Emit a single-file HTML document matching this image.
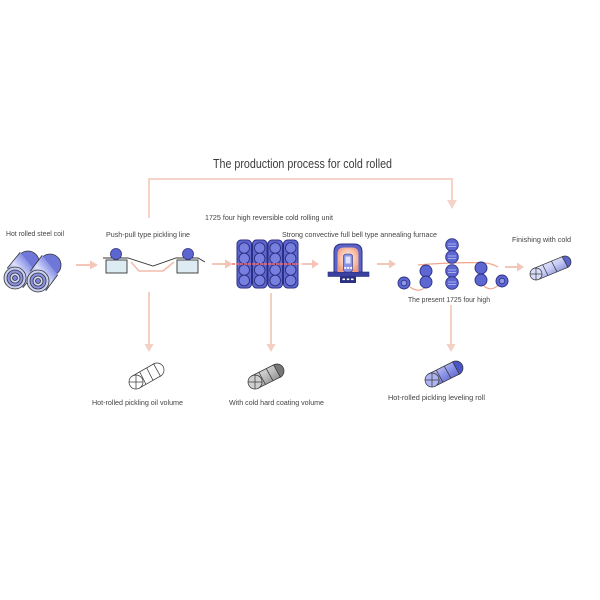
<!DOCTYPE html>
<html><head><meta charset="utf-8"><style>
html,body{margin:0;padding:0;background:#fff;}
svg{display:block;}
text{font-family:"Liberation Sans",sans-serif;fill:#444;}
</style></head><body>
<svg width="600" height="600" viewBox="0 0 600 600" xmlns="http://www.w3.org/2000/svg">
<defs>
  <linearGradient id="coilG" x1="0" y1="1" x2="1" y2="0" gradientUnits="objectBoundingBox">
    <stop offset="0" stop-color="#3a43b0"/>
    <stop offset="0.45" stop-color="#dfe2ff"/>
    <stop offset="0.7" stop-color="#8e96e6"/>
    <stop offset="1" stop-color="#4a53c0"/>
  </linearGradient>
  <linearGradient id="finG" x1="0" y1="0" x2="1" y2="1">
    <stop offset="0" stop-color="#ffffff"/>
    <stop offset="0.5" stop-color="#c9cdf5"/>
    <stop offset="1" stop-color="#4c55c6"/>
  </linearGradient>
  <linearGradient id="grayG" x1="0" y1="0" x2="1" y2="1">
    <stop offset="0" stop-color="#f4f4f4"/>
    <stop offset="0.5" stop-color="#bdbdbd"/>
    <stop offset="1" stop-color="#6a6a6a"/>
  </linearGradient>
  <linearGradient id="blueG" x1="0" y1="0" x2="1" y2="1">
    <stop offset="0" stop-color="#e9ebff"/>
    <stop offset="0.5" stop-color="#8d94e8"/>
    <stop offset="1" stop-color="#3b44b8"/>
  </linearGradient>
  <radialGradient id="glow" cx="0.5" cy="0.45" r="0.6">
    <stop offset="0" stop-color="#fff6f0"/>
    <stop offset="0.55" stop-color="#f9c7b2"/>
    <stop offset="1" stop-color="#ef9a80"/>
  </radialGradient>
</defs>

<!-- Title -->
<text x="213" y="168" font-size="12.5" textLength="179" lengthAdjust="spacingAndGlyphs" style="fill:#3c3c3c">The production process for cold rolled</text>

<!-- Feedback loop -->
<g stroke="#f5d3c9" stroke-width="2" fill="none">
  <polyline points="149,218 149,179 452,179 452,201"/>
</g>
<polygon points="447,200 457,200 452,209" fill="#f5d3c9"/>

<!-- Labels -->
<g font-size="7.4">
  <text x="6" y="236" textLength="58" lengthAdjust="spacingAndGlyphs">Hot rolled steel coil</text>
  <text x="106" y="237" textLength="84" lengthAdjust="spacingAndGlyphs">Push-pull type pickling line</text>
  <text x="205" y="220" textLength="128" lengthAdjust="spacingAndGlyphs">1725 four high reversible cold rolling unit</text>
  <text x="282" y="237" textLength="155" lengthAdjust="spacingAndGlyphs">Strong convective full bell type annealing furnace</text>
  <text x="512" y="242" textLength="59" lengthAdjust="spacingAndGlyphs">Finishing with cold</text>
  <text x="408" y="302" textLength="82" lengthAdjust="spacingAndGlyphs">The present 1725 four high</text>
  <text x="92" y="405" textLength="91" lengthAdjust="spacingAndGlyphs">Hot-rolled pickling oil volume</text>
  <text x="229" y="405" textLength="95" lengthAdjust="spacingAndGlyphs">With cold hard coating volume</text>
  <text x="388" y="400" textLength="97" lengthAdjust="spacingAndGlyphs">Hot-rolled pickling leveling roll</text>
</g>

<!-- Horizontal arrows -->
<g stroke="#f3c6b8" stroke-width="2">
  <line x1="76" y1="265" x2="91" y2="265"/>
  <line x1="212" y1="264" x2="226" y2="264"/>
  <line x1="302" y1="264" x2="313" y2="264"/>
  <line x1="377" y1="264" x2="390" y2="264"/>
  <line x1="505" y1="267" x2="518" y2="267"/>
</g>
<g fill="#f3c6b8">
  <polygon points="90,260.5 98,265 90,269.5"/>
  <polygon points="225,259.5 233,264 225,268.5"/>
  <polygon points="312,259.5 319,264 312,268.5"/>
  <polygon points="389,259.5 396,264 389,268.5"/>
  <polygon points="517,262.5 524,267 517,271.5"/>
</g>

<!-- Down arrows -->
<g stroke="#f3cfc4" stroke-width="2">
  <line x1="149" y1="292" x2="149" y2="345"/>
  <line x1="271" y1="293" x2="271" y2="345"/>
  <line x1="451" y1="305" x2="451" y2="345"/>
</g>
<g fill="#f3cfc4">
  <polygon points="144.5,344 153.5,344 149,352"/>
  <polygon points="266.5,344 275.5,344 271,352"/>
  <polygon points="446.5,344 455.5,344 451,352"/>
</g>

<!-- Hot rolled steel coil -->
<g stroke="#333" stroke-width="0.8">
  <circle cx="28" cy="262" r="11" fill="#6f78d8"/>
  <polygon points="22.8,287.7 35.8,271.7 20.2,252.3 7.2,268.3" fill="url(#coilG)" stroke="none"/>
  <line x1="22.8" y1="287.7" x2="35.8" y2="271.7"/>
  <line x1="7.2" y1="268.3" x2="20.2" y2="252.3"/>
  <circle cx="15" cy="278" r="11" fill="#c9cef5"/>
  <circle cx="15" cy="278" r="8" fill="#8b93e4"/>
  <circle cx="15" cy="278" r="5" fill="#d5d9fa"/>
  <circle cx="15" cy="278" r="2.5" fill="#7a82dc"/>
  <circle cx="50" cy="265" r="11" fill="#6f78d8"/>
  <polygon points="45.8,290.7 57.8,274.7 42.2,255.3 30.2,271.3" fill="url(#coilG)" stroke="none"/>
  <line x1="45.8" y1="290.7" x2="57.8" y2="274.7"/>
  <line x1="30.2" y1="271.3" x2="42.2" y2="255.3"/>
  <circle cx="38" cy="281" r="11" fill="#c9cef5"/>
  <circle cx="38" cy="281" r="8" fill="#8b93e4"/>
  <circle cx="38" cy="281" r="5" fill="#d5d9fa"/>
  <circle cx="38" cy="281" r="2.5" fill="#7a82dc"/>
</g>

<!-- Pickling line -->
<polyline points="131,262 139,271 163,271 174,262" fill="none" stroke="#f2bcab" stroke-width="1.6"/>
<polyline points="103,258 128,258 153,266 176,258 198,258 205,262" fill="none" stroke="#333" stroke-width="0.9"/>
<rect x="106" y="260" width="21" height="13" fill="#dcecf2" stroke="#333" stroke-width="0.9"/>
<rect x="177" y="260" width="21" height="13" fill="#dcecf2" stroke="#333" stroke-width="0.9"/>
<circle cx="116" cy="254" r="5.5" fill="#5d66d0" stroke="#2b2f80" stroke-width="0.8"/>
<circle cx="188" cy="254" r="5.5" fill="#5d66d0" stroke="#2b2f80" stroke-width="0.8"/>

<!-- Cold rolling mill -->
<g stroke="#2b2f80" stroke-width="1">
  <rect x="237" y="240" width="14.5" height="48" rx="4" fill="#5e67d0"/>
  <rect x="252.5" y="240" width="14.5" height="48" rx="4" fill="#5e67d0"/>
  <rect x="268" y="240" width="14.5" height="48" rx="4" fill="#5e67d0"/>
  <rect x="283.5" y="240" width="14.5" height="48" rx="4" fill="#5e67d0"/>
</g>
<g stroke="#2b2f80" stroke-width="0.9" fill="#7780de">
  <circle cx="244.2" cy="248" r="5.3"/><circle cx="244.2" cy="258.5" r="5.3"/><circle cx="244.2" cy="270" r="5.3"/><circle cx="244.2" cy="280.5" r="5.3"/>
  <circle cx="259.7" cy="248" r="5.3"/><circle cx="259.7" cy="258.5" r="5.3"/><circle cx="259.7" cy="270" r="5.3"/><circle cx="259.7" cy="280.5" r="5.3"/>
  <circle cx="275.2" cy="248" r="5.3"/><circle cx="275.2" cy="258.5" r="5.3"/><circle cx="275.2" cy="270" r="5.3"/><circle cx="275.2" cy="280.5" r="5.3"/>
  <circle cx="290.7" cy="248" r="5.3"/><circle cx="290.7" cy="258.5" r="5.3"/><circle cx="290.7" cy="270" r="5.3"/><circle cx="290.7" cy="280.5" r="5.3"/>
</g>
<line x1="232" y1="264" x2="300" y2="264" stroke="#e9707a" stroke-width="1.6" stroke-dasharray="3,1"/>

<!-- Furnace -->
<rect x="340" y="276" width="16" height="7" fill="#2b2f80"/>
<g fill="#fff"><rect x="342.5" y="278.5" width="2.5" height="1.6"/><rect x="346.8" y="278.5" width="2.5" height="1.6"/><rect x="351" y="278.5" width="2.5" height="1.6"/></g>
<rect x="328" y="272" width="41" height="4.5" fill="#3a41a0" stroke="#2b2f80" stroke-width="0.6"/>
<path d="M334,272 L334,252 Q334,244 342,244 L354,244 Q362,244 362,252 L362,272 Z" fill="#5a63c8" stroke="#2b2f80" stroke-width="1"/>
<path d="M337.5,272 L337.5,254 Q337.5,247.5 344,247.5 L352,247.5 Q358.5,247.5 358.5,254 L358.5,272 Z" fill="url(#glow)"/>
<rect x="343.5" y="254" width="9" height="18" rx="2.5" fill="#8a92e4" stroke="#2b2f80" stroke-width="0.6"/>
<rect x="345.5" y="256.5" width="5" height="7" fill="#dfe2fb"/>
<g fill="#fff"><rect x="344.3" y="267" width="2" height="1.8"/><rect x="347.2" y="267" width="2" height="1.8"/><rect x="350.1" y="267" width="2" height="1.8"/></g>

<!-- Four-high mill -->
<g fill="none" stroke="#f0a58f" stroke-width="1.2">
  <path d="M410,287 C417,292 422,291 428,285"/>
  <path d="M418,265 C440,263 470,262 484,263 C490,263 494,265 498,267"/>
  <path d="M484,286 C490,291 495,289 500,283"/>
</g>
<g stroke="#2b2f80" stroke-width="0.9" fill="#5d67d2">
  <circle cx="452" cy="245" r="6.3"/><circle cx="452" cy="257" r="6.3"/>
  <circle cx="452" cy="271" r="6.3"/><circle cx="452" cy="283" r="6.3"/>
  <circle cx="426" cy="271" r="6"/><circle cx="426" cy="282" r="6"/>
  <circle cx="481" cy="268" r="6"/><circle cx="481" cy="280" r="6"/>
  <circle cx="404" cy="283" r="6"/><circle cx="502" cy="281" r="6"/>
</g>
<g stroke="#c8ccf4" stroke-width="0.7">
  <line x1="448" y1="244" x2="456" y2="244"/><line x1="448" y1="246.5" x2="456" y2="246.5"/>
  <line x1="448" y1="256" x2="456" y2="256"/><line x1="448" y1="258.5" x2="456" y2="258.5"/>
  <line x1="448" y1="270" x2="456" y2="270"/><line x1="448" y1="272.5" x2="456" y2="272.5"/>
  <line x1="448" y1="282" x2="456" y2="282"/><line x1="448" y1="284.5" x2="456" y2="284.5"/>
</g>
<circle cx="404" cy="283" r="2.8" fill="#8f97e8" stroke="#2b2f80" stroke-width="0.8"/>
<circle cx="502" cy="281" r="2.8" fill="#8f97e8" stroke="#2b2f80" stroke-width="0.8"/>

<!-- Finishing coil -->
<g stroke="#333" stroke-width="0.7">
  <circle cx="565" cy="262" r="6" fill="#5a63c8"/>
  <polygon points="538.9,279.3 567.9,267.3 562.1,256.7 533.1,268.7" fill="url(#finG)"/>
  <line x1="548" y1="275.5" x2="542.6" y2="264.6" fill="none"/>
  <line x1="557" y1="271.8" x2="551.4" y2="261" fill="none"/>
  <circle cx="536" cy="274" r="6" fill="#d9dcfa"/>
  <line x1="530" y1="274" x2="542" y2="274"/><line x1="536" y1="268" x2="536" y2="280"/>
</g>

<!-- Product icon 1 (outline) -->
<g stroke="#333" stroke-width="0.7" fill="#fff">
  <circle cx="157" cy="370" r="7"/>
  <polygon points="139.4,388.1 160.4,376.1 153.6,363.9 132.6,375.9"/>
  <line x1="146" y1="384.3" x2="139.7" y2="371.9"/>
  <line x1="153" y1="380.3" x2="146.7" y2="367.9"/>
  <circle cx="136" cy="382" r="7"/>
  <line x1="129" y1="382" x2="143" y2="382"/><line x1="136" y1="375" x2="136" y2="389"/>
</g>
<!-- Product icon 2 (gray) -->
<g stroke="#333" stroke-width="0.7">
  <circle cx="277" cy="371" r="7" fill="#777"/>
  <polygon points="258.4,388.1 280.4,377.1 273.6,364.9 251.6,375.9" fill="url(#grayG)"/>
  <line x1="265.5" y1="384.5" x2="258.8" y2="372.3"/>
  <line x1="273" y1="380.8" x2="266.3" y2="368.6"/>
  <circle cx="255" cy="382" r="7" fill="#cfcfcf"/>
  <line x1="248" y1="382" x2="262" y2="382"/><line x1="255" y1="375" x2="255" y2="389"/>
</g>
<!-- Product icon 3 (blue) -->
<g stroke="#333" stroke-width="0.7">
  <circle cx="456" cy="368" r="7" fill="#4c55c6"/>
  <polygon points="435.4,386.1 459.4,374.1 452.6,361.9 428.6,373.9" fill="url(#blueG)"/>
  <line x1="443" y1="382.3" x2="436.2" y2="370.1"/>
  <line x1="451" y1="378.3" x2="444.2" y2="366.1"/>
  <circle cx="432" cy="380" r="7" fill="#aeb4f0"/>
  <line x1="425" y1="380" x2="439" y2="380"/><line x1="432" y1="373" x2="432" y2="387"/>
</g>
</svg>
</body></html>
